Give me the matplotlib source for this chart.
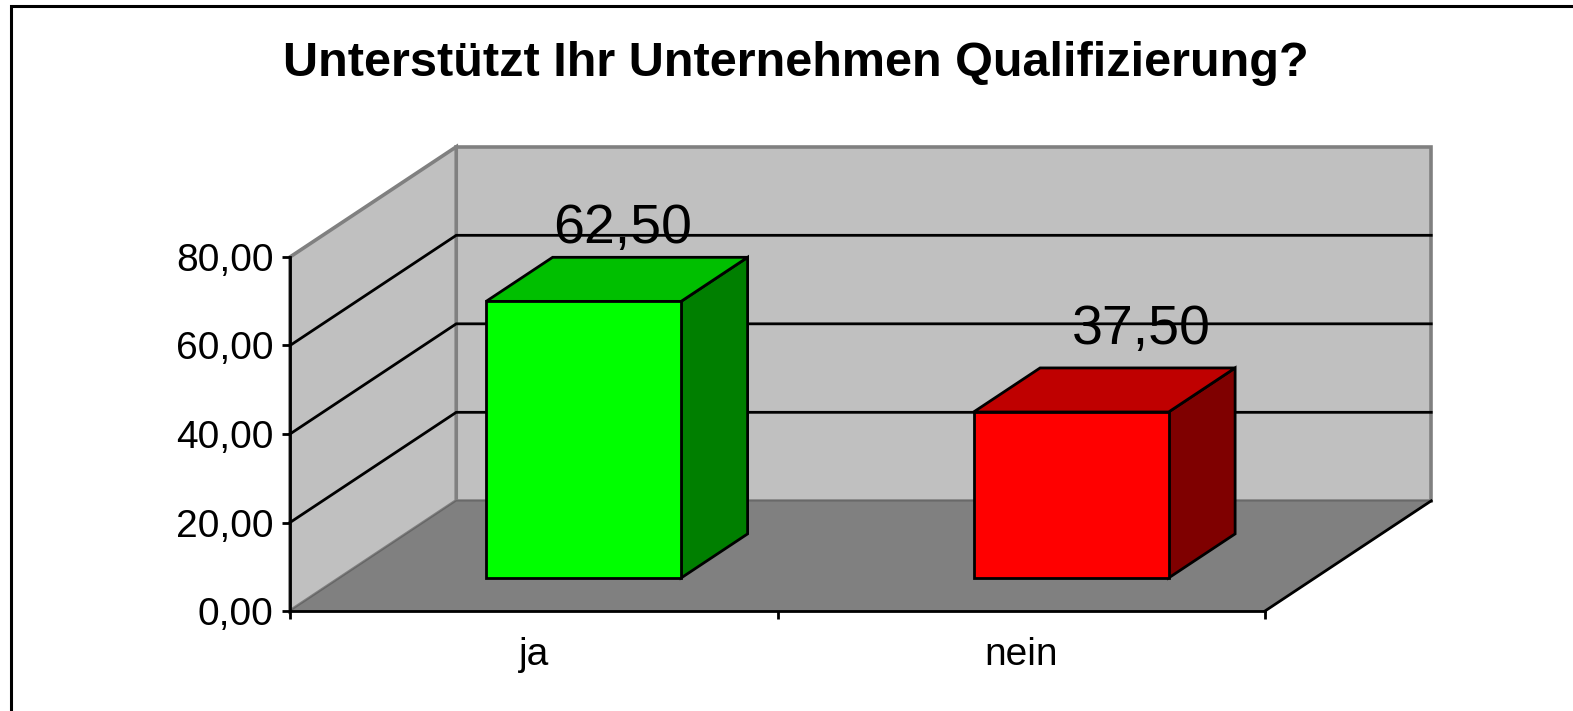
import matplotlib
matplotlib.use('Agg')
import matplotlib.pyplot as plt
from matplotlib.patches import Polygon

# Data
categories = ['ja', 'nein']
values = [62.50, 37.50]
y_ticks = [0, 20, 40, 60, 80]
front_colors = ['#00ff00', '#ff0000']
top_colors = ['#00bf00', '#bf0000']
side_colors = ['#007f00', '#7f0000']

# Fake 3D offsets, in data units
depth_x = 0.341
depth_y = 24.9
bar_width = 0.4
bar_start = 0.30
bar_end = 0.70

# Where the value labels sit relative to the top of each bar's category
label_dx = [0.183, 0.246]
label_dy = [23.8, 25.9]

plt.rcParams['font.family'] = ['Liberation Sans', 'DejaVu Sans']

fig = plt.figure(figsize=(15.73, 7.11), dpi=100)

# Chart frame, cut off at right and bottom like the original
frame = fig.add_axes([0, 0, 1, 1], zorder=0)
frame.set_xlim(0, 1573)
frame.set_ylim(711, 0)
frame.axis('off')
frame.plot([11, 11, 1573], [711, 6, 6], color='black', lw=2.2, solid_joinstyle='miter')
frame.text(796, 64, 'Unterstützt Ihr Unternehmen Qualifizierung?', fontsize=35,
           fontweight='bold', ha='center', va='center')

ax = fig.add_axes([290 / 1573, 1 - 611 / 711, 975 / 1573, 354 / 711], zorder=1)
ax.set_xlim(-0.5, 1.5)
ax.set_ylim(0, 80)
ax.patch.set_visible(False)
for s in ['top', 'right']:
    ax.spines[s].set_visible(False)
for s in ['left', 'bottom']:
    ax.spines[s].set_linewidth(2.0)
    ax.spines[s].set_zorder(8)


def add_face(points, color, edge='black', lw=2.0, z=2):
    ax.add_patch(Polygon(points, closed=True, facecolor=color, edgecolor=edge, linewidth=lw,
                         zorder=z, clip_on=False, joinstyle='miter'))


x0, x1 = ax.get_xlim()
top = y_ticks[-1]

# Walls and floor
add_face([(x0 + depth_x, depth_y), (x1 + depth_x, depth_y), (x1 + depth_x, top + depth_y), (x0 + depth_x, top + depth_y)],
         '#c0c0c0', edge='#808080', lw=2.6, z=1)
add_face([(x0, 0), (x0 + depth_x, depth_y), (x0 + depth_x, top + depth_y), (x0, top)],
         '#c0c0c0', edge='#808080', lw=2.6, z=1)
add_face([(x0, 0), (x1, 0), (x1 + depth_x, depth_y), (x0 + depth_x, depth_y)],
         '#808080', edge='#666666', lw=1.0, z=2)
ax.plot([x1, x1 + depth_x], [0, depth_y], color='black', lw=2.0, zorder=3, clip_on=False)

# Gridlines on both walls
for t in y_ticks[1:-1]:
    ax.plot([x0, x0 + depth_x, x1 + depth_x], [t, t + depth_y, t + depth_y],
            color='black', lw=2.0, zorder=3, clip_on=False, solid_joinstyle='miter')

# Bars
for i, v in enumerate(values):
    xl = i - bar_width / 2 + depth_x * bar_start
    xr = i + bar_width / 2 + depth_x * bar_start
    y0 = depth_y * bar_start
    y1 = v + y0
    dx = depth_x * (bar_end - bar_start)
    dy = depth_y * (bar_end - bar_start)
    add_face([(xr, y0), (xr + dx, y0 + dy), (xr + dx, y1 + dy), (xr, y1)], side_colors[i], z=4)
    add_face([(xl, y1), (xr, y1), (xr + dx, y1 + dy), (xl + dx, y1 + dy)], top_colors[i], z=4)
    add_face([(xl, y0), (xr, y0), (xr, y1), (xl, y1)], front_colors[i], z=5)
    ax.text(i + label_dx[i], v + label_dy[i], f'{v:.2f}'.replace('.', ','),
            fontsize=40, ha='center', va='center', zorder=9)

# Axes ticks
ax.set_yticks(y_ticks)
ax.set_yticklabels([f'{t:.2f}'.replace('.', ',') for t in y_ticks], fontsize=28)
ax.set_xticks([-0.5, 0.5, 1.5])
ax.set_xticklabels(['', '', ''])
ax.tick_params(axis='both', length=6, width=2.0, pad=6, color='black')
ax.set_xticks([0, 1], minor=True)
ax.set_xticklabels(categories, minor=True, fontsize=28)
ax.tick_params(axis='x', which='minor', length=0, pad=19)

fig.savefig('out.png', dpi=100)
